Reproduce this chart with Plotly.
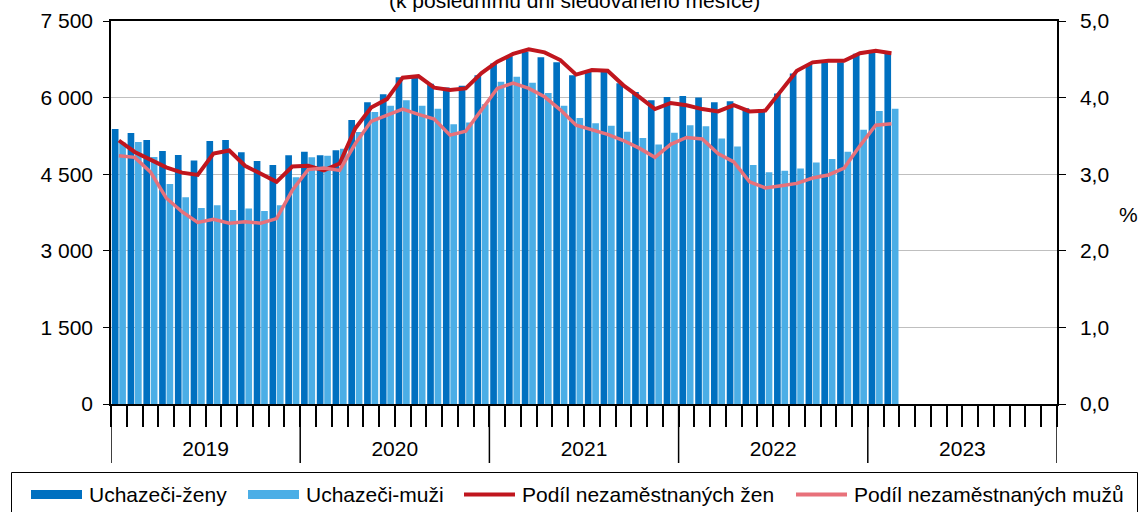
import plotly.graph_objects as go

# ---- data ----
years = ["2019", "2020", "2021", "2022", "2023"]
n_months = 60

zeny = [5385, 5307, 5170, 4954, 4876, 4770, 5150, 5170, 4930, 4760, 4680, 4870,
        4940, 4870, 4970, 5560, 5910, 6065, 6400, 6400, 6270, 6200, 6230, 6440,
        6670, 6810, 6900, 6790, 6690, 6440, 6540, 6540, 6280, 6110, 5950, 6010,
        6030, 6000, 5910, 5930, 5790, 5740, 6080, 6470, 6650, 6690, 6690, 6860,
        6900, 6860]
muzi = [5120, 5130, 4836, 4310, 4050, 3840, 3890, 3800, 3830, 3780, 3890, 4440,
        4830, 4860, 5000, 5325, 5720, 5840, 5950, 5840, 5780, 5480, 5510, 5870,
        6310, 6410, 6290, 6090, 5840, 5600, 5500, 5450, 5330, 5210, 5080, 5310,
        5460, 5440, 5200, 5040, 4680, 4540, 4570, 4610, 4730, 4800, 4940, 5370,
        5740, 5780]
zeny_pct = [3.44, 3.29, 3.19, 3.09, 3.02, 2.99, 3.27, 3.31, 3.11, 3.01, 2.90, 3.10,
            3.11, 3.05, 3.14, 3.60, 3.87, 3.98, 4.26, 4.28, 4.13, 4.10, 4.12, 4.32,
            4.47, 4.57, 4.63, 4.59, 4.49, 4.30, 4.36, 4.35, 4.16, 4.01, 3.85, 3.93,
            3.90, 3.85, 3.82, 3.90, 3.82, 3.83, 4.09, 4.35, 4.46, 4.48, 4.48, 4.58,
            4.61, 4.58]
muzi_pct = [3.24, 3.22, 3.03, 2.69, 2.51, 2.37, 2.41, 2.36, 2.38, 2.36, 2.42, 2.79,
            3.06, 3.08, 3.05, 3.40, 3.69, 3.77, 3.85, 3.78, 3.72, 3.51, 3.56, 3.84,
            4.12, 4.19, 4.12, 4.01, 3.84, 3.64, 3.58, 3.52, 3.44, 3.34, 3.22, 3.39,
            3.48, 3.46, 3.27, 3.16, 2.90, 2.82, 2.85, 2.88, 2.95, 2.99, 3.08, 3.37,
            3.64, 3.66]
left_ticks = [0, 1500, 3000, 4500, 6000, 7500]
right_ticks = [0, 1, 2, 3, 4, 5]
series_names = ["Uchazeči-ženy", "Uchazeči-muži",
                "Podíl nezaměstnaných žen", "Podíl nezaměstnaných mužů"]
series_colors = ["#0070C0", "#4BAEE6", "#C0161E", "#E8717A"]
series_kinds = ["bar", "bar", "line", "line"]

x = list(range(len(zeny)))
year_centers = [12 * i + 5.5 for i in range(len(years))]
month_bounds = [i - 0.5 for i in range(n_months + 1)]
year_bounds = [12 * i - 0.5 for i in range(len(years) + 1)]

FONT = "Liberation Sans, Arial, sans-serif"

# ---- page geometry (pixels) ----
W, H = 1139, 512
PL, PR, PT, PB = 111, 1057, 21, 404


def px_x(px):
    return (px - PL) / (PR - PL)


def px_y(py):
    return (PB - py) / (PB - PT)


fig = go.Figure()
fig.add_bar(x=x, y=zeny, name=series_names[0], showlegend=False,
            marker=dict(color=series_colors[0], line=dict(width=0)))
fig.add_bar(x=x, y=muzi, name=series_names[1], showlegend=False,
            marker=dict(color=series_colors[1], line=dict(width=0)))
fig.add_scatter(x=x, y=zeny_pct, yaxis="y2", mode="lines", showlegend=False,
                name=series_names[2], line=dict(color=series_colors[2], width=4))
fig.add_scatter(x=x, y=muzi_pct, yaxis="y2", mode="lines", showlegend=False,
                name=series_names[3], line=dict(color=series_colors[3], width=3.5))

shapes = []
for b in year_bounds:
    shapes.append(dict(type="line", xref="x", yref="paper", x0=b, x1=b,
                       y0=0, y1=px_y(463), line=dict(color="black", width=1.5)))

# ---- legend drawn as a box with swatches and labels ----
shapes.append(dict(type="rect", xref="paper", yref="paper",
                   x0=px_x(11.5), x1=px_x(1137.5), y0=px_y(472.5), y1=px_y(530),
                   line=dict(color="black", width=1), fillcolor="white", layer="above"))
annotations = []
item_starts = [31, 248, 464, 796]
sw_w = 51
leg_y = 494.5
for start, name, col, kind in zip(item_starts, series_names, series_colors, series_kinds):
    if kind == "bar":
        shapes.append(dict(type="rect", xref="paper", yref="paper",
                           x0=px_x(start), x1=px_x(start + sw_w),
                           y0=px_y(leg_y - 4.5), y1=px_y(leg_y + 4.5),
                           line=dict(width=0), fillcolor=col, layer="above"))
    else:
        shapes.append(dict(type="line", xref="paper", yref="paper",
                           x0=px_x(start), x1=px_x(start + sw_w),
                           y0=px_y(leg_y), y1=px_y(leg_y),
                           line=dict(color=col, width=4), layer="above"))
    annotations.append(dict(text=name, xref="paper", yref="paper",
                            x=px_x(start + sw_w + 5), y=px_y(leg_y),
                            xanchor="left", yanchor="middle", showarrow=False,
                            font=dict(size=21, family=FONT, color="black")))

annotations += [
    dict(text="(k poslednímu dni sledovaného měsíce)", xref="paper", yref="paper",
         x=px_x(574), y=1.018, xanchor="center", yanchor="bottom",
         showarrow=False, font=dict(size=21, family=FONT)),
    dict(text="%", xref="paper", yref="paper", x=px_x(1128), y=px_y(214),
         xanchor="center", yanchor="middle", showarrow=False,
         font=dict(size=21, family=FONT)),
]

fig.update_layout(
    width=W, height=H,
    margin=dict(l=PL, r=W - PR, t=PT, b=H - PB, autoexpand=False),
    paper_bgcolor="white", plot_bgcolor="white",
    font=dict(family=FONT, size=21, color="black"),
    separators=", ",
    barmode="group", bargap=0.06, bargroupgap=0.1,
    showlegend=False,
    xaxis=dict(range=[-0.5, n_months - 0.5], tickmode="array",
               tickvals=year_centers, ticktext=years, ticks="",
               showline=True, linecolor="black", linewidth=1.5, mirror=True,
               showgrid=False, zeroline=False, ticklabelstandoff=25,
               minor=dict(tickmode="array", tickvals=month_bounds, ticks="outside",
                          ticklen=21, tickwidth=1.5, tickcolor="black",
                          showgrid=False)),
    yaxis=dict(range=[0, 7500], tickmode="array", tickvals=left_ticks,
               tickformat=",d", ticks="outside", ticklen=6, tickwidth=1,
               tickcolor="black", showline=True, linecolor="black", linewidth=1.5,
               showgrid=True, gridcolor="#BFBFBF", gridwidth=1, zeroline=False,
               ticklabelstandoff=6),
    yaxis2=dict(range=[0, 5], tickmode="array", tickvals=right_ticks,
                tickformat=".1f", overlaying="y", side="right",
                ticks="outside", ticklen=7, tickwidth=1, tickcolor="black",
                showline=True, linecolor="black", linewidth=1.5,
                showgrid=False, zeroline=False, ticklabelstandoff=10),
    shapes=shapes,
    annotations=annotations,
)

fig.write_html("out.html", config={"displayModeBar": False},
               post_script="document.body.style.margin='0';")
